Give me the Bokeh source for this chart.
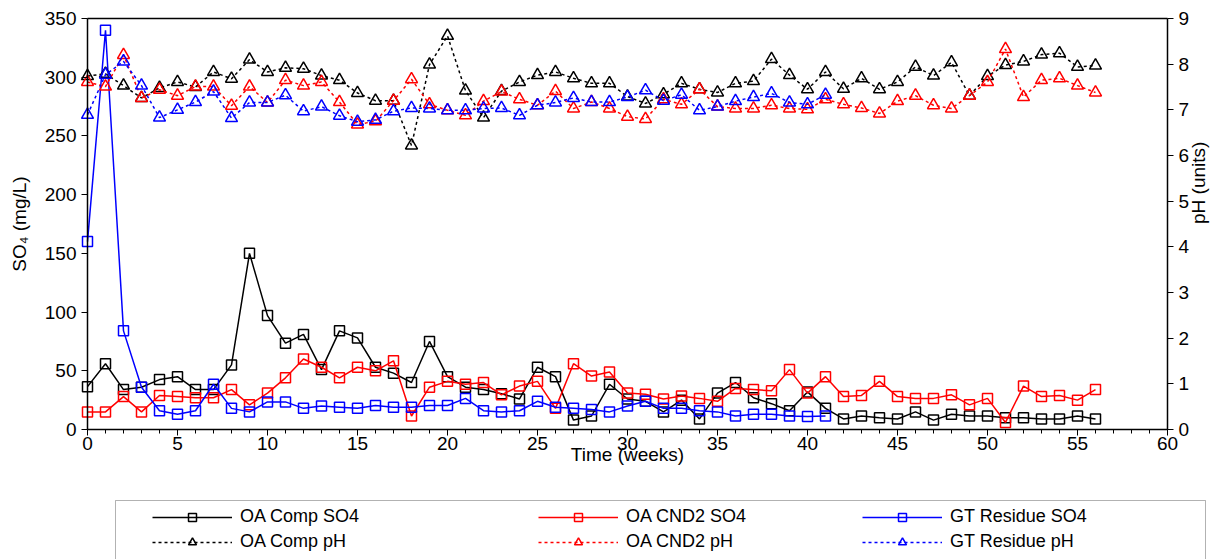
import math
from bokeh.plotting import figure
from bokeh.models import (Range1d, LinearAxis, SingleIntervalTicker, FixedTicker, Legend,
                          LegendItem, BoxAnnotation)
from bokeh.embed import file_html
from bokeh.resources import INLINE

weeks = list(range(57))
gt_weeks = list(range(42))

oa_comp_so4 = [36.5, 56, 34, 36, 42.5, 45, 34, 34, 55, 150, 97, 73.5, 81, 51, 84, 78,
               53, 48, 40, 75, 45, 36, 34, 30.5, 26, 53, 45, 8, 11.5, 38.5, 26, 24,
               15, 25, 9, 31, 40, 27, 22, 16, 32, 18, 9, 11.5, 10, 9, 15, 8, 13, 11.5,
               11.5, 10, 10, 9, 9, 11.5, 9]
oa_cnd2_so4 = [15, 15, 28, 15, 29, 28, 27, 27, 34, 21, 31, 44, 60, 53, 44, 53, 50,
               58.5, 11.5, 36, 41, 38.5, 40, 29.5, 37, 41, 18, 56, 45.5, 49, 31, 30,
               26, 28.5, 26.5, 24, 35, 34, 33, 51, 31, 45, 28, 29, 41, 28, 26.5, 26.5,
               29.5, 21, 26.5, 6, 37, 28, 29, 25, 34]
gt_res_so4 = [160, 340, 84, 36, 16, 13, 16, 38.5, 18, 15, 23.5, 23.5, 18, 20, 19, 18,
              20.5, 19, 19, 20.5, 20.5, 26.5, 16, 15, 16, 24, 19, 18, 17, 15, 20, 24,
              18, 18, 16, 15, 11.5, 13, 13, 11.5, 11, 11.5]

oa_comp_ph = [7.74, 7.79, 7.53, 7.26, 7.48, 7.61, 7.50, 7.83, 7.68, 8.10, 7.83, 7.92,
              7.90, 7.75, 7.65, 7.37, 7.20, 7.20, 6.22, 7.99, 8.62, 7.42, 6.83, 7.41,
              7.61, 7.76, 7.83, 7.69, 7.58, 7.58, 7.29, 7.14, 7.34, 7.58, 7.45, 7.38,
              7.58, 7.63, 8.11, 7.76, 7.45, 7.83, 7.46, 7.69, 7.45, 7.61, 7.94, 7.75,
              8.04, 7.31, 7.74, 7.98, 8.06, 8.21, 8.24, 7.94, 7.97]
oa_cnd2_ph = [7.61, 7.51, 8.20, 7.26, 7.44, 7.31, 7.51, 7.51, 7.09, 7.51, 7.16, 7.65,
              7.53, 7.61, 7.17, 6.68, 6.75, 7.20, 7.67, 7.12, 6.99, 6.88, 7.19, 7.40,
              7.23, 7.10, 7.41, 7.03, 7.17, 7.03, 6.85, 6.80, 7.23, 7.12, 7.45, 7.07,
              7.03, 7.03, 7.10, 7.03, 7.01, 7.23, 7.12, 7.04, 6.92, 7.19, 7.31, 7.10,
              7.03, 7.31, 7.61, 8.33, 7.28, 7.65, 7.69, 7.53, 7.38]
gt_res_ph = [6.89, 7.77, 8.06, 7.53, 6.83, 7.00, 7.17, 7.40, 6.82, 7.16, 7.16, 7.32,
             6.97, 7.07, 6.87, 6.74, 6.78, 6.97, 7.04, 7.03, 6.99, 6.99, 7.03, 7.04,
             6.88, 7.10, 7.16, 7.26, 7.17, 7.17, 7.28, 7.43, 7.20, 7.33, 6.99, 7.07,
             7.19, 7.28, 7.36, 7.16, 7.12, 7.33]

series_labels = ["OA Comp SO4", "OA CND2 SO4", "GT Residue SO4",
                 "OA Comp pH", "OA CND2 pH", "GT Residue pH"]

X_MAX, SO4_MAX, PH_MAX = 60, 350, 9

# page geometry (pixels): the plotting area occupies the whole canvas; the
# chart box sits inside it and the legend below it
W, H = 1217, 559
PL, PR, PT, PB = 87, 1167, 18, 429
kx = (PR - PL) / X_MAX
ky = (PB - PT) / SO4_MAX
kp = (PB - PT) / PH_MAX
x_rng = Range1d(-PL / kx, X_MAX + (W - PR) / kx)
y_rng = Range1d(-(H - PB) / ky, SO4_MAX + PT / ky)
ph_rng = Range1d(-(H - PB) / kp, PH_MAX + PT / kp)


def px_x(px):
    return x_rng.start + px / kx


def px_y(py):
    return y_rng.end - py / ky


FONT = "Liberation Sans"
FS = "19px"
LFS = "18px"

p = figure(width=W, height=H, output_backend="svg", toolbar_location=None,
           x_range=x_rng, y_range=y_rng,
           min_border_left=0, min_border_right=0, min_border_top=0, min_border_bottom=0)
p.extra_y_ranges = {"ph": ph_rng}
p.grid.visible = False
p.outline_line_color = None
p.background_fill_color = "white"
p.border_fill_color = "white"

xa = p.xaxis[0]
xa.ticker = SingleIntervalTicker(interval=5, num_minor_ticks=5)
xa.axis_label = "Time (weeks)"
xa.fixed_location = 0
xa.bounds = (0, X_MAX)
ya = p.yaxis[0]
ya.ticker = SingleIntervalTicker(interval=50, num_minor_ticks=0)
ya.axis_label = "SO\u2084 (mg/L)"
ya.fixed_location = 0
ya.bounds = (0, SO4_MAX)

ra = LinearAxis(y_range_name="ph", axis_label="pH  (units)", fixed_location=X_MAX,
                bounds=(0, PH_MAX),
                ticker=SingleIntervalTicker(interval=1, num_minor_ticks=0))
p.add_layout(ra, "right")
try:
    ra.axis_label_orientation = math.pi / 2
    ra.axis_label_text_align = "center"
    ra.axis_label_text_baseline = "middle"
except Exception:
    pass

ta = LinearAxis(fixed_location=SO4_MAX, bounds=(0, X_MAX), ticker=FixedTicker(ticks=[]))
p.add_layout(ta, "above")
ta.axis_line_color = "black"
ta.axis_line_width = 1.5

for ax in [xa, ya, ra]:
    ax.axis_line_color = "black"
    ax.axis_line_width = 1.5
    ax.major_tick_line_color = "black"
    ax.major_tick_in = 0
    ax.major_tick_out = 6
    ax.minor_tick_in = 0
    ax.minor_tick_out = 4
    ax.major_label_text_font = FONT
    ax.major_label_text_font_size = FS
    ax.major_label_text_color = "black"
    ax.axis_label_text_font = FONT
    ax.axis_label_text_font_size = FS
    ax.axis_label_text_font_style = "normal"
    ax.axis_label_text_color = "black"
ya.minor_tick_line_color = None
ra.minor_tick_line_color = None
xa.major_label_standoff = 1
xa.axis_label_standoff = -9
ya.axis_label_standoff = 12
ra.axis_label_standoff = 6

styles = [
    (weeks, oa_comp_so4, "black", "default", "square", "solid"),
    (weeks, oa_cnd2_so4, "red", "default", "square", "solid"),
    (gt_weeks, gt_res_so4, "blue", "default", "square", "solid"),
    (weeks, oa_comp_ph, "black", "ph", "triangle", "3 3"),
    (weeks, oa_cnd2_ph, "red", "ph", "triangle", "3 3"),
    (gt_weeks, gt_res_ph, "blue", "ph", "triangle", "3 3"),
]
rend = {}
for label, (xs, ys, col, yr, mk, dash) in zip(series_labels, styles):
    lr = p.line(xs, ys, line_color=col, line_width=1.5, line_dash=dash, y_range_name=yr)
    sr = p.scatter(xs, ys, marker=mk, size=(10 if mk == "square" else 12),
                   line_color=col, line_width=1.5, fill_color=None, y_range_name=yr)
    rend[label] = [lr, sr]

# legend box
p.add_layout(BoxAnnotation(left=px_x(115), right=px_x(1205), top=px_y(500),
                           bottom=px_y(575), fill_alpha=0, line_color="black",
                           line_width=1))

col_x = [152, 538, 862]
for i, cx in enumerate(col_x):
    items = [LegendItem(label=series_labels[i], renderers=rend[series_labels[i]]),
             LegendItem(label=series_labels[i + 3], renderers=rend[series_labels[i + 3]])]
    lg = Legend(items=items, location=(cx, 7), orientation="vertical",
                glyph_width=80, glyph_height=20, label_height=20,
                label_standoff=8, spacing=4, padding=0, margin=0,
                label_text_font=FONT, label_text_font_size=LFS, label_text_color="black",
                border_line_color=None, background_fill_alpha=0)
    p.add_layout(lg, "center")

open("out.html", "w").write(file_html(p, INLINE))
